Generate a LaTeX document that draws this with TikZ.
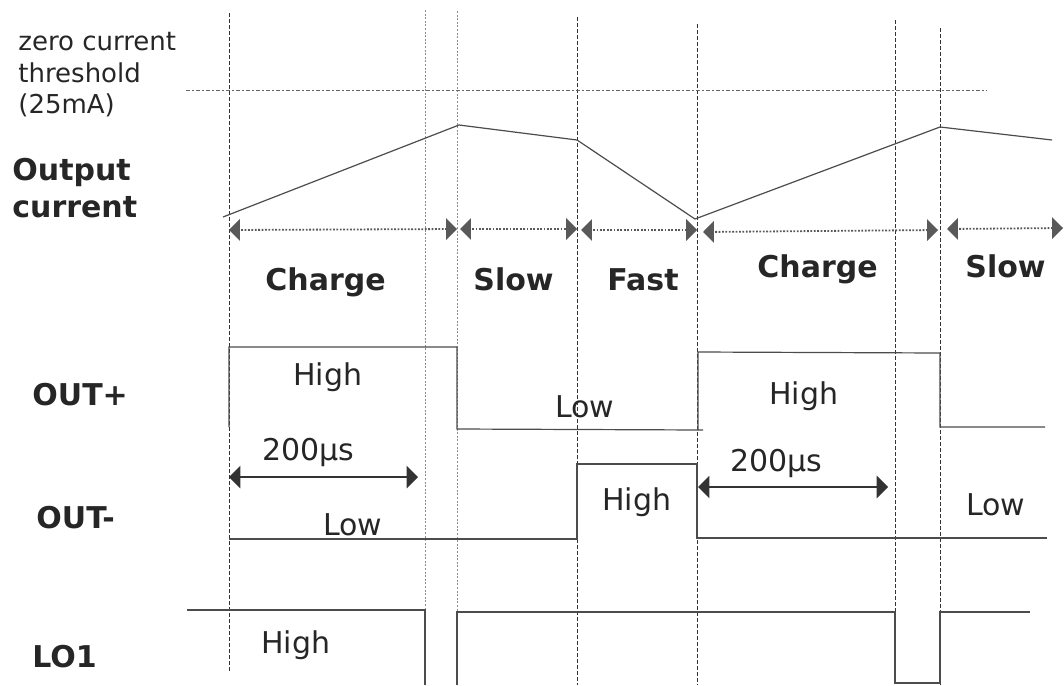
\documentclass[tikz,border=0pt]{standalone}
\usepackage{fontspec}
\setmainfont{DejaVu Sans}
\usetikzlibrary{arrows}

\tikzset{
  guide/.style={line width=0.4pt, black!80, dash pattern=on 2pt off 1pt},
  guidegray/.style={line width=0.5pt, black!45, dash pattern=on 1pt off 0.8pt},
  thresh/.style={line width=0.5pt, black!60, dash pattern=on 2pt off 1.2pt on 0.6pt off 1.2pt},
  wave/.style={line width=0.6pt, black!70},
  phase/.style={line width=0.9pt, black!65, dash pattern=on 0.9pt off 0.8pt, triangle 90-triangle 90},
  span/.style={line width=1pt, black!80, triangle 90-triangle 90},
  lbl/.style={anchor=base west, inner sep=0pt, text=black!85, font=\fontsize{15pt}{18pt}\selectfont},
  sig/.style={lbl, font=\fontsize{15pt}{18pt}\selectfont\bfseries},
  note/.style={lbl, font=\fontsize{13pt}{15pt}\selectfont},
}

\begin{document}
\begin{tikzpicture}[x=0.5pt, y=-0.5pt]

\useasboundingbox (0,0) rectangle (1064,685);

% time marks
\draw[guide] (229,13) -- (229,672);
\draw[guidegray] (425,10) -- (425,685);
\draw[guidegray] (457,11) -- (457,685);
\draw[guide] (577,17) -- (577,685);
\draw[guide] (697,24) -- (697,685);
\draw[guide] (895,20) -- (895,685);
\draw[guide] (940,28) -- (940,685);

% zero current threshold
\draw[thresh] (186,90) -- (987,90);

% left labels
\node[note] (zero) at (18,50) {zero current};
\node[note] (thr) at (18,82) {threshold};
\node[note] (ma) at (18,113) {(25mA)};
\node[sig] (outa) at (12,180) {Output};
\node[sig] (outb) at (12,217) {current};
\node[sig] (outp) at (32,405) {OUT+};
\node[sig] (outm) at (36,528) {OUT-};
\node[sig] (lo) at (32,667) {LO1};

% output current
\draw[wave] (223,217) -- (459,125) -- (577,140) -- (695,219) -- (940,127) -- (1052,140);

% phases
\coordinate (p0) at (229,230);
\coordinate (p1) at (457,229);
\coordinate (p2) at (460,229);
\coordinate (p3) at (577,229);
\coordinate (p4) at (581,230);
\coordinate (p5) at (697,230);
\coordinate (p6) at (703,232);
\coordinate (p7) at (938,230);
\coordinate (p8) at (947,229);
\coordinate (p9) at (1063,228);
\draw[phase] (p0) -- (p1);
\draw[phase] (p2) -- (p3);
\draw[phase] (p4) -- (p5);
\draw[phase] (p6) -- (p7);
\draw[phase] (p8) -- (p9);

\node[sig] (ch1) at (265,290) {Charge};
\node[sig] (sl1) at (473,290) {Slow};
\node[sig] (fa1) at (607,290) {Fast};
\node[sig] (ch2) at (757,277) {Charge};
\node[sig] (sl2) at (965,277) {Slow};

% OUT+
\draw[wave] (229,427) -- (229,347) -- (457,347) -- (457,429) -- (703,430);
\draw[wave] (698,430) -- (698,352) -- (940,353) -- (940,427) -- (1045,427);
\node[lbl] (hi1) at (293,385) {High};
\node[lbl] (lw1) at (555,417) {Low};
\node[lbl] (hi2) at (769,404) {High};

% OUT-
\draw[wave] (229,539) -- (577,539) -- (577,464) -- (697,464) -- (697,538) -- (1047,538);
\node[lbl] (lw2) at (323,535) {Low};
\node[lbl] (hi3) at (602,510) {High};
\node[lbl] (lw3) at (966,515) {Low};

% 200us spans
\coordinate (s0) at (229,477);
\coordinate (s1) at (418,477);
\coordinate (s2) at (698,487);
\coordinate (s3) at (888,487);
\draw[span] (s0) -- (s1);
\draw[span] (s2) -- (s3);
\node[lbl] (us1) at (262,460) {200µs};
\node[lbl] (us2) at (730,471) {200µs};

% LO1
\draw[wave] (187,610) -- (425,610) -- (425,685);
\draw[wave] (457,685) -- (457,612) -- (895,612) -- (895,683) -- (940,683) -- (940,612) -- (1030,612);
\node[lbl] (hi4) at (261,653) {High};

\end{tikzpicture}
\end{document}
